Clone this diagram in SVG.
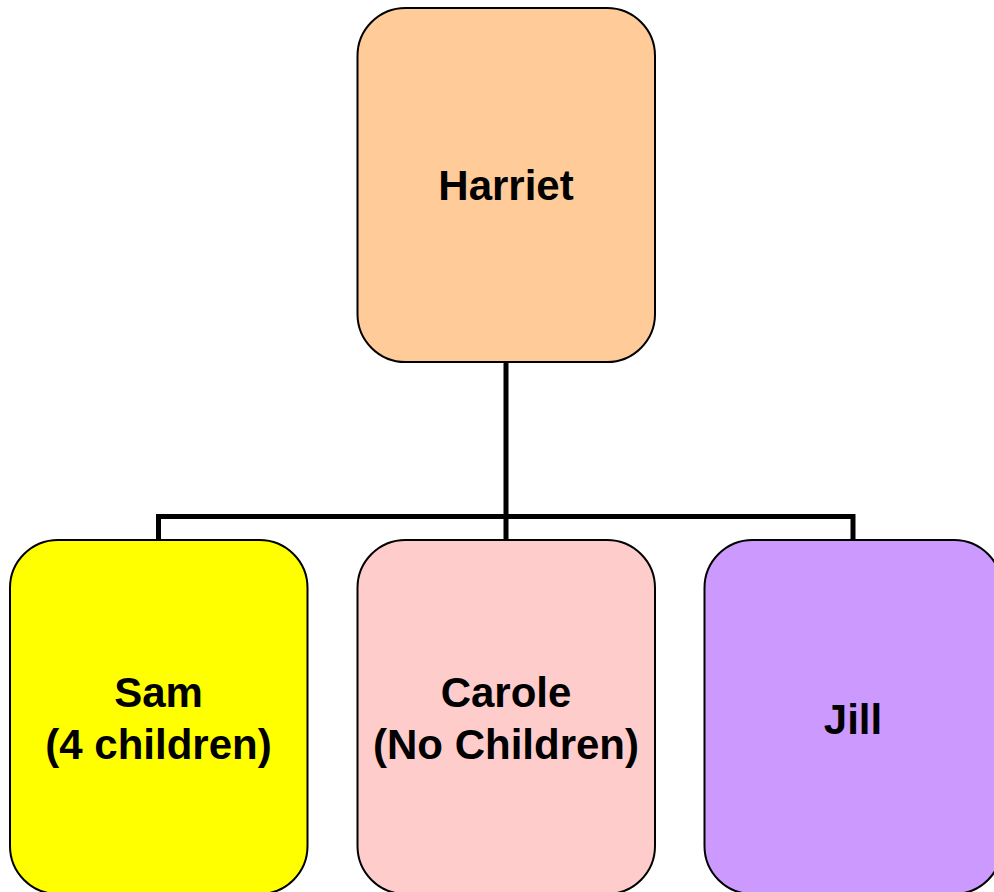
<svg xmlns="http://www.w3.org/2000/svg" width="994" height="892" viewBox="0 0 994 892">
<style>
.box{stroke:#000;stroke-width:2}
.lbl{font-family:"Liberation Sans",Arial,sans-serif;font-weight:bold;font-size:42px;fill:#000;text-anchor:middle}
.conn{fill:none;stroke:#000;stroke-width:5}
</style>
<rect width="994" height="892" fill="#fff"/>
<g id="connectors">
<line class="conn" x1="506" y1="362" x2="506" y2="540"/>
<polyline class="conn" points="158.5,540 158.5,516.5 853,516.5 853,540"/>
</g>
<g id="harriet">
<rect class="box" x="357.5" y="8" width="297.5" height="354" rx="48" ry="48" fill="#FFCC99"/>
<text class="lbl" x="506" y="200">Harriet</text>
</g>
<g id="sam">
<rect class="box" x="10" y="540" width="297.5" height="354" rx="48" ry="48" fill="#FFFF00"/>
<text class="lbl" x="158.5" y="707">Sam</text>
<text class="lbl" x="158.5" y="759">(4 children)</text>
</g>
<g id="carole">
<rect class="box" x="357.5" y="540" width="297.5" height="354" rx="48" ry="48" fill="#FFCCCC"/>
<text class="lbl" x="506" y="707">Carole</text>
<text class="lbl" x="506" y="759">(No Children)</text>
</g>
<g id="jill">
<rect class="box" x="704.5" y="540" width="297.5" height="354" rx="48" ry="48" fill="#CC99FF"/>
<text class="lbl" x="853" y="734">Jill</text>
</g>
</svg>
